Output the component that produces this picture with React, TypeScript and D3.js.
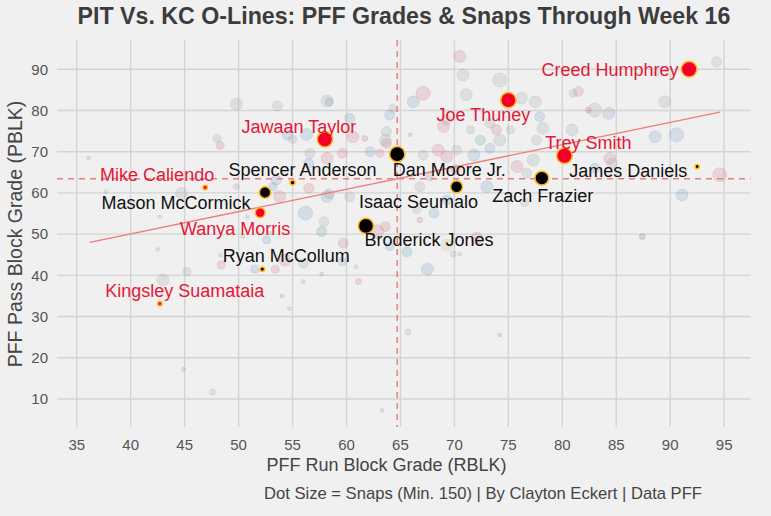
import React from "react";
import * as d3 from "d3";

// ---- Highlighted players (PIT & KC offensive linemen) ----
const names = [
  "Creed Humphrey", "Joe Thuney", "Trey Smith", "Jawaan Taylor", "Dan Moore Jr.",
  "Spencer Anderson", "Mike Caliendo", "Mason McCormick", "Wanya Morris", "Isaac Seumalo",
  "Broderick Jones", "Zach Frazier", "James Daniels", "Ryan McCollum", "Kingsley Suamataia",
];
const teams = ["KC", "KC", "KC", "KC", "PIT", "PIT", "KC", "PIT", "KC", "PIT", "PIT", "PIT", "PIT", "PIT", "KC"];
const rblk = [91.75, 75.0, 80.2, 58.0, 64.7, 55.0, 46.9, 52.45, 52.0, 70.2, 61.8, 78.1, 92.5, 52.2, 42.7];
const pblk = [90.0, 82.5, 69.0, 73.0, 69.4, 62.5, 61.3, 60.1, 55.2, 61.5, 52.0, 63.6, 66.4, 41.5, 33.1];
const snaps = [1080, 1060, 1090, 1070, 1060, 190, 170, 650, 520, 700, 1040, 900, 160, 170, 165];

// ---- League-wide background linemen: [RBLK, PBLK, snaps, colour group] ----
const leagueRblk = [
  36.1, 37.7, 48.0, 48.3, 49.8, 53.6, 58.2, 58.4, 60.3, 60.6, 56.3, 56.6, 58.2, 59.6, 61.7, 62.2, 63.7, 64.3, 64.0, 63.1,
  44.7, 42.7, 53.2, 53.5, 56.2, 57.9, 57.7, 58.2, 59.7, 60.3, 62.8, 64.0, 52.6, 50.8, 49.8, 42.5, 43.0, 45.2, 48.4, 48.3,
  51.5, 53.4, 54.3, 56.0, 56.0, 57.7, 59.6, 61.1, 60.9, 54.0, 54.7, 44.9, 47.6, 63.3, 65.7, 74.2, 87.4, 67.5, 65.6, 69.9,
  70.5, 69.3, 72.1, 70.5, 70.8, 74.2, 67.1, 66.2, 71.1, 76.2, 77.5, 69.0, 69.3, 73.3, 73.9, 74.2, 72.4, 71.5, 75.2, 77.9,
  78.2, 77.6, 63.7, 63.6, 68.5, 67.1, 70.2, 71.8, 73.3, 69.3, 75.8, 77.3, 76.7, 67.7, 73.0, 66.8, 68.1, 66.5, 66.8, 69.3,
  65.9, 63.6, 76.5, 70.1, 94.3, 81.5, 81.0, 89.5, 83.0, 84.3, 82.4, 80.9, 88.6, 90.6, 84.4, 84.6, 83.0, 94.6, 91.1, 88.7,
  56.5, 53.8, 56.5, 58.4, 52.9, 50.4, 54.5, 55.0,
];
const leaguePblk = [
  68.4, 60.3, 73.2, 71.5, 81.5, 81.1, 82.3, 82.1, 78.1, 73.6, 74.2, 69.6, 68.4, 69.6, 73.2, 70.0, 74.9, 80.5, 78.9, 69.6,
  59.9, 54.2, 61.5, 63.1, 55.1, 53.0, 50.6, 59.1, 47.8, 59.1, 50.6, 47.0, 48.6, 54.2, 61.5, 46.3, 38.9, 40.9, 42.5, 44.9,
  41.5, 41.5, 43.7, 38.5, 42.9, 40.3, 43.3, 38.5, 42.1, 35.0, 31.9, 17.2, 11.7, 7.2, 26.3, 25.5, 49.4, 41.5, 45.7, 45.2,
  45.2, 47.4, 49.0, 93.1, 88.6, 87.4, 84.2, 82.1, 83.8, 83.0, 82.1, 76.1, 77.7, 76.9, 75.3, 72.8, 72.8, 75.3, 75.3, 78.5,
  75.7, 72.8, 72.0, 72.8, 70.4, 69.2, 70.4, 69.2, 70.8, 68.8, 66.4, 68.0, 64.8, 63.9, 61.5, 61.5, 55.1, 55.9, 53.4, 58.3,
  74.1, 51.8, 57.7, 65.6, 91.8, 84.6, 84.2, 82.1, 80.1, 79.3, 80.1, 75.3, 73.6, 74.1, 68.4, 67.2, 66.0, 64.4, 59.5, 89.0,
  67.2, 59.1, 61.1, 59.8, 50.2, 49.4, 74.0, 73.0,
];
const leagueSnaps = [
  150, 150, 380, 380, 710, 530, 710, 380, 530, 710, 710, 530, 710, 530, 250, 530, 530, 380, 530, 380,
  710, 150, 380, 530, 920, 530, 530, 710, 530, 530, 920, 380, 380, 150, 250, 150, 710, 380, 380, 150,
  380, 380, 710, 150, 530, 150, 380, 250, 150, 150, 150, 150, 250, 150, 250, 150, 250, 710, 530, 250,
  150, 710, 710, 710, 710, 920, 920, 710, 710, 710, 710, 710, 530, 530, 530, 710, 530, 380, 380, 530,
  710, 530, 530, 710, 710, 530, 530, 710, 530, 710, 710, 710, 530, 380, 710, 530, 530, 380, 250, 530,
  150, 530, 380, 530, 530, 530, 380, 710, 920, 710, 250, 710, 710, 920, 710, 530, 530, 920, 710, 250,
  530, 710, 530, 530, 150, 150, 530, 380,
];
// 0 gray, 1 red, 2 blue, 3 teal, 4 gold, 5 purple
const leagueGroup = [
  0, 0, 0, 1, 0, 0, 0, 2, 2, 1, 2, 0, 1, 1, 1, 2, 0, 0, 2, 1,
  0, 0, 2, 2, 2, 0, 3, 2, 1, 0, 1, 2, 2, 0, 0, 0, 0, 0, 1, 0,
  2, 1, 1, 0, 0, 1, 2, 1, 0, 1, 1, 1, 0, 2, 0, 1, 5, 2, 3, 0,
  0, 4, 1, 1, 0, 0, 1, 2, 0, 0, 0, 1, 0, 0, 1, 0, 3, 0, 0, 2,
  0, 0, 1, 0, 1, 0, 0, 2, 2, 1, 1, 0, 0, 2, 2, 0, 2, 0, 1, 2,
  1, 1, 0, 1, 0, 1, 0, 0, 0, 2, 1, 0, 2, 2, 1, 0, 2, 1, 2, 0,
  2, 1, 1, 0, 0, 0, 2, 0,
];
const groupColors = ["#8a8f94", "#c9566e", "#5a86b8", "#3f8f8f", "#c9b06b", "#6b4f96"];

// ---- Reference lines ----
const meanRblk = 64.7;
const meanPblk = 63.45;
const trendRblk = [36.2, 94.6];
const trendPblk = [48.0, 79.6];

// ---- Axes ----
const xTicks = [35, 40, 45, 50, 55, 60, 65, 70, 75, 80, 85, 90, 95];
const yTicks = [10, 20, 30, 40, 50, 60, 70, 80, 90];

const titleText = "PIT Vs. KC O-Lines: PFF Grades & Snaps Through Week 16";
const xTitle = "PFF Run Block Grade (RBLK)";
const yTitle = "PFF Pass Block Grade (PBLK)";
const captionText = "Dot Size = Snaps (Min. 150) | By Clayton Eckert | Data PFF";

// label placement (pixel offsets of label centre from point)
const labelOffsets: Record<string, [number, number]> = {
  "Creed Humphrey": [-79, 0],
  "Joe Thuney": [-25, 15],
  "Trey Smith": [24, -13],
  "Jawaan Taylor": [-26, -13],
  "Dan Moore Jr.": [52, 16],
  "Spencer Anderson": [10, -13],
  "Mike Caliendo": [-48, -13],
  "Mason McCormick": [-89, 10],
  "Wanya Morris": [-25, 16],
  "Isaac Seumalo": [-38, 15],
  "Broderick Jones": [63, 14],
  "Zach Frazier": [1, 18],
  "James Daniels": [-69, 4],
  "Ryan McCollum": [24, -13],
  "Kingsley Suamataia": [25, -13],
};

const W = 771;
const H = 516;
const FONT = "'Liberation Sans', Arial, Helvetica, sans-serif";

export default function App() {
  const x = d3.scaleLinear().domain([33.17, 97.46]).range([57, 750.7]);
  const y = d3.scaleLinear().domain([3.2, 97.1]).range([427, 40]);
  const r = d3.scaleSqrt().domain([150, 1150]).range([2, 8]);
  const [x0, x1] = x.range();
  const [y0, y1] = y.range();
  const grid = "#d4d4d4";
  const refColor = "#f27a7a";
  const kcRed = "#f2002b";
  const kcText = "#e31837";
  const gold = "#ffb612";

  const trendLine = d3.line<number>()
    .x((d) => x(d))
    .y((_, i) => y(trendPblk[i]));

  return (
    <svg width={W} height={H} style={{ position: "absolute", left: 0, top: 0, display: "block" }} fontFamily={FONT}>
      <rect x={0} y={0} width={W} height={H} fill="#f0f0f0" />
      {/* grid */}
      {xTicks.map((t) => (
        <line key={"gx" + t} x1={x(t)} x2={x(t)} y1={y1} y2={y0} stroke={grid} strokeWidth={1.4} />
      ))}
      {yTicks.map((t) => (
        <line key={"gy" + t} x1={x0} x2={x1} y1={y(t)} y2={y(t)} stroke={grid} strokeWidth={1.4} />
      ))}
      {/* background league points */}
      {leagueRblk.map((v, i) => (
        <circle
          key={"bg" + i}
          cx={x(v)}
          cy={y(leaguePblk[i])}
          r={r(leagueSnaps[i])}
          fill={groupColors[leagueGroup[i]]}
          fillOpacity={0.18}
          stroke={groupColors[leagueGroup[i]]}
          strokeOpacity={0.16}
          strokeWidth={1}
        />
      ))}
      {/* mean lines */}
      <line x1={x(meanRblk)} x2={x(meanRblk)} y1={y1} y2={y0} stroke={refColor} strokeWidth={1.5} strokeDasharray="6,5" />
      <line x1={x0} x2={x1} y1={y(meanPblk)} y2={y(meanPblk)} stroke={refColor} strokeWidth={1.5} strokeDasharray="6,5" />
      {/* trend line */}
      <path d={trendLine(trendRblk) || ""} fill="none" stroke={refColor} strokeWidth={1.4} />
      {/* highlighted points */}
      {names.map((n, i) => (
        <circle
          key={"hp" + n}
          cx={x(rblk[i])}
          cy={y(pblk[i])}
          r={r(snaps[i])}
          fill={teams[i] === "KC" ? kcRed : "#000"}
          stroke={gold}
          strokeWidth={1.5}
        />
      ))}
      {/* labels */}
      {names.map((n, i) => (
        <text
          key={"lb" + n}
          x={x(rblk[i]) + labelOffsets[n][0]}
          y={y(pblk[i]) + labelOffsets[n][1]}
          dy="0.35em"
          textAnchor="middle"
          fontSize={18}
          fill={teams[i] === "KC" ? kcText : "#111"}
        >
          {n}
        </text>
      ))}
      {/* axes tick labels */}
      {xTicks.map((t) => (
        <text key={"tx" + t} x={x(t)} y={450} textAnchor="middle" fontSize={15} fill="#555">
          {t}
        </text>
      ))}
      {yTicks.map((t) => (
        <text key={"ty" + t} x={48} y={y(t)} dy="0.35em" textAnchor="end" fontSize={15} fill="#555">
          {t}
        </text>
      ))}
      {/* titles */}
      <text x={404} y={24} textAnchor="middle" fontSize={23.2} fontWeight="bold" fill="#3c3c3c">
        {titleText}
      </text>
      <text x={386.5} y={471} textAnchor="middle" fontSize={18} fill="#444">
        {xTitle}
      </text>
      <text
        transform={`translate(22,234) rotate(-90)`}
        textAnchor="middle"
        fontSize={19.5}
        fill="#444"
      >
        {yTitle}
      </text>
      <text x={264} y={499} textAnchor="start" fontSize={16.6} fill="#444">
        {captionText}
      </text>
    </svg>
  );
}
